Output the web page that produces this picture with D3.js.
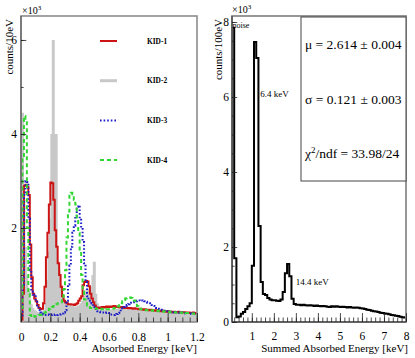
<!DOCTYPE html>
<html>
<head>
<meta charset="utf-8">
<script src="https://cdn.jsdelivr.net/npm/d3@7"></script>
<style>
  body { margin: 0; background: #fff; }
  svg text { font-family: "Liberation Serif", "Times New Roman", serif; fill: #000; }
</style>
</head>
<body>
<script>
// Left panel: spectra per KID, counts per 10 eV bin (x10^3)
const kidBinStart = 0, kidBinWidth = 0.01;
const kidNames = ['KID-1', 'KID-2', 'KID-3', 'KID-4'];
const kid1 = [
  0.05, 0.6, 2.9, 2.92, 2.88, 2.7, 1.65, 0.95, 0.6, 0.5,
  0.44, 0.36, 0.3, 0.27, 0.28, 0.4, 0.75, 1.38, 1.9, 2.5,
  2.97, 2.95, 2.6, 1.95, 1.6, 1.25, 1.0, 0.75, 0.55, 0.45,
  0.42, 0.4, 0.38, 0.38, 0.37, 0.37, 0.36, 0.38, 0.4, 0.45,
  0.5, 0.55, 0.78, 0.85, 0.87, 0.86, 0.76, 0.6, 0.5, 0.42,
  0.35, 0.3, 0.31, 0.3, 0.31, 0.32, 0.31, 0.32, 0.33, 0.32,
  0.33, 0.32, 0.33, 0.34, 0.32, 0.33, 0.32, 0.31, 0.32, 0.31,
  0.3, 0.31, 0.3, 0.29, 0.3, 0.29, 0.28, 0.29, 0.28, 0.28,
  0.27, 0.28, 0.27, 0.26, 0.27, 0.26, 0.26, 0.25, 0.26, 0.25,
  0.25, 0.24, 0.25, 0.24, 0.24, 0.23, 0.24, 0.23, 0.23, 0.22,
  0.23, 0.22, 0.22, 0.21, 0.22, 0.21, 0.21, 0.22, 0.2, 0.21,
  0.2, 0.21, 0.2, 0.19, 0.2, 0.19, 0.19, 0.2, 0.18, 0.19
];
const kid2 = [
  4.45, 4.45, 2.6, 1.6, 1.0, 0.7, 0.5, 0.38, 0.3, 0.26,
  0.24, 0.22, 0.2, 0.2, 0.21, 0.25, 0.4, 0.9, 1.5, 2.2,
  4.0, 6.0, 6.0, 4.0, 4.0, 1.3, 1.1, 0.8, 0.6, 0.5,
  0.45, 0.4, 0.38, 0.36, 0.35, 0.34, 0.33, 0.33, 0.34, 0.36,
  0.4, 0.45, 0.55, 0.65, 0.7, 0.72, 0.7, 0.75, 1.0, 1.28,
  1.28, 0.6, 0.4, 0.32, 0.28, 0.27, 0.27, 0.26, 0.27, 0.26,
  0.26, 0.27, 0.27, 0.28, 0.27, 0.28, 0.28, 0.27, 0.28, 0.27,
  0.28, 0.27, 0.27, 0.28, 0.27, 0.27, 0.26, 0.27, 0.26, 0.26,
  0.26, 0.25, 0.26, 0.25, 0.25, 0.24, 0.25, 0.24, 0.24, 0.24,
  0.23, 0.24, 0.23, 0.23, 0.22, 0.23, 0.22, 0.22, 0.21, 0.22,
  0.21, 0.21, 0.22, 0.21, 0.2, 0.21, 0.2, 0.2, 0.21, 0.2,
  0.2, 0.19, 0.2, 0.19, 0.19, 0.18, 0.19, 0.18, 0.18, 0.18
];
const kid3 = [
  0.1, 0.8, 2.7, 3.0, 2.98, 2.2, 1.1, 0.65, 0.58, 0.55,
  0.45, 0.35, 0.25, 0.2, 0.17, 0.16, 0.15, 0.15, 0.16, 0.15,
  0.15, 0.16, 0.15, 0.16, 0.15, 0.16, 0.16, 0.17, 0.18, 0.2,
  0.25, 0.45, 0.8, 1.2, 1.6, 1.9, 2.05, 2.25, 2.45, 2.48,
  2.2, 2.0, 1.7, 1.25, 0.85, 0.55, 0.47, 0.45, 0.4, 0.33,
  0.28, 0.25, 0.23, 0.22, 0.21, 0.2, 0.2, 0.19, 0.2, 0.19,
  0.17, 0.16, 0.16, 0.15, 0.16, 0.17, 0.19, 0.22, 0.27, 0.3,
  0.32, 0.34, 0.36, 0.38, 0.39, 0.41, 0.42, 0.43, 0.44, 0.45,
  0.46, 0.45, 0.46, 0.45, 0.44, 0.43, 0.41, 0.4, 0.38, 0.36,
  0.34, 0.32, 0.3, 0.28, 0.27, 0.26, 0.25, 0.24, 0.23, 0.23,
  0.22, 0.22, 0.21, 0.21, 0.2, 0.21, 0.2, 0.2, 0.19, 0.2,
  0.19, 0.19, 0.18, 0.19, 0.18, 0.18, 0.17, 0.18, 0.17, 0.17
];
const kid4 = [
  0.3, 3.5, 4.38, 4.3, 2.0, 0.6, 0.15, 0.1, 0.1, 0.12,
  0.13, 0.14, 0.15, 0.15, 0.16, 0.18, 0.2, 0.22, 0.25, 0.28,
  0.3, 0.32, 0.34, 0.36, 0.38, 0.4, 0.41, 0.42, 0.5, 0.7,
  1.1, 1.8, 2.35, 2.72, 2.75, 2.72, 2.6, 2.5, 2.2, 1.9,
  1.5, 1.0, 0.65, 0.48, 0.4, 0.35, 0.32, 0.3, 0.3, 0.29,
  0.29, 0.28, 0.28, 0.27, 0.28, 0.27, 0.27, 0.26, 0.27, 0.27,
  0.27, 0.28, 0.28, 0.29, 0.3, 0.31, 0.33, 0.36, 0.4, 0.44,
  0.47, 0.5, 0.51, 0.52, 0.52, 0.51, 0.5, 0.46, 0.4, 0.34,
  0.3, 0.28, 0.27, 0.26, 0.26, 0.25, 0.25, 0.25, 0.24, 0.25,
  0.24, 0.24, 0.23, 0.24, 0.23, 0.23, 0.22, 0.23, 0.22, 0.22,
  0.22, 0.21, 0.22, 0.21, 0.21, 0.2, 0.21, 0.2, 0.2, 0.2,
  0.19, 0.2, 0.19, 0.19, 0.19, 0.18, 0.18, 0.18, 0.17, 0.18
];

// Right panel: summed spectrum, counts per 100 eV bin (x10^3), bins from 0.1 keV
const sumBinStart = 0.1, sumBinWidth = 0.1;
const summed = [
  7.85, 1.7, 0.13, 0.15, 0.22, 0.27, 0.35, 0.42, 0.5, 1.5,
  7.47, 7.04, 2.56, 1.07, 0.75, 0.72, 0.64, 0.6, 0.58, 0.58,
  0.57, 0.56, 0.6, 0.8, 1.3, 1.55, 1.22, 0.62, 0.48, 0.46,
  0.46, 0.45, 0.46, 0.45, 0.44, 0.45, 0.44, 0.43, 0.44, 0.43,
  0.42, 0.43, 0.42, 0.41, 0.4, 0.42, 0.41, 0.42, 0.41, 0.4,
  0.41, 0.4, 0.39, 0.4, 0.39, 0.38, 0.39, 0.38, 0.37, 0.36,
  0.35, 0.33, 0.32, 0.3, 0.29, 0.28, 0.27, 0.25, 0.24, 0.23,
  0.22, 0.21, 0.19, 0.18, 0.17, 0.16, 0.14, 0.13, 0.12
];

const leftTicks = [0, 0.2, 0.4, 0.6, 0.8, 1, 1.2];
const leftTickLabels = ['0', '0.2', '0.4', '0.6', '0.8', '1', '1.2'];
const leftYTicks = [2, 4, 6];
const rightTicks = [1, 2, 3, 4, 5, 6, 7, 8];
const rightYTicks = [0, 2, 4, 6, 8];
const fitLines = ['\u03bc = 2.614 \u00b1 0.004', '\u03c3 = 0.121 \u00b1 0.003'];

const W = 415, H = 358;
const svg = d3.select('body').append('svg').attr('width', W).attr('height', H);
svg.append('rect').attr('width', W).attr('height', H).attr('fill', '#fff');

function histLine(values, start, width, x, y) {
  const pts = [[x(start), y(0)]];
  values.forEach((v, i) => {
    pts.push([x(start + i * width), y(v)]);
    pts.push([x(start + (i + 1) * width), y(v)]);
  });
  pts.push([x(start + values.length * width), y(0)]);
  return d3.line()(pts);
}

function styleAxis(g, size) {
  g.select('.domain').remove();
  g.selectAll('line').attr('stroke', '#222').attr('stroke-width', 0.8);
  g.selectAll('text').attr('font-size', size).attr('font-family', '"Liberation Serif", serif').attr('fill', '#000');
}

// ---------- left panel ----------
const L = {left: 21, right: 197, top: 16, bottom: 322};
const xL = d3.scaleLinear().domain([0, 1.2]).range([L.left, L.right]);
const yL = d3.scaleLinear().domain([0, 6.51]).range([L.bottom, L.top]);

svg.append('clipPath').attr('id', 'clipL').append('rect')
  .attr('x', L.left).attr('y', L.top).attr('width', L.right - L.left).attr('height', L.bottom - L.top);

const gL = svg.append('g').attr('clip-path', 'url(#clipL)');
const series = [
  {name: kidNames[0], values: kid1, color: '#cc1414', dash: null, width: 2},
  {name: kidNames[1], values: kid2, color: '#c8c8c8', dash: null, width: 3},
  {name: kidNames[2], values: kid3, color: '#1c1cc8', dash: '1.6,2', width: 2},
  {name: kidNames[3], values: kid4, color: '#33d633', dash: '4,3', width: 2}
];

// KID-2 is a filled histogram underneath the others
gL.append('path')
  .attr('d', histLine(kid2, kidBinStart, kidBinWidth, xL, yL))
  .attr('fill', '#c8c8c8').attr('stroke', 'none');

[series[0], series[2], series[3]].forEach(s => {
  gL.append('path')
    .attr('d', histLine(s.values, kidBinStart, kidBinWidth, xL, yL))
    .attr('fill', 'none')
    .attr('stroke', s.color)
    .attr('stroke-width', s.width)
    .attr('stroke-dasharray', s.dash)
    .attr('stroke-linejoin', 'miter');
});

// frame
svg.append('rect')
  .attr('x', L.left).attr('y', L.top).attr('width', L.right - L.left).attr('height', L.bottom - L.top)
  .attr('fill', 'none').attr('stroke', '#8c8c8c').attr('stroke-width', 1.6);
svg.append('line').attr('x1', L.left).attr('x2', L.left).attr('y1', L.top).attr('y2', L.bottom)
  .attr('stroke', '#555').attr('stroke-width', 1);

// x axis
svg.append('g').attr('transform', `translate(0,${L.bottom})`)
  .call(d3.axisBottom(xL).tickValues(d3.range(0, 1.2001, 0.05)).tickSize(-4.5).tickFormat(''))
  .call(g => styleAxis(g, 11));
svg.append('g').attr('transform', `translate(0,${L.bottom})`)
  .call(d3.axisBottom(xL).tickValues(leftTicks).tickSize(-9).tickPadding(11)
    .tickFormat((d, i) => leftTickLabels[i]))
  .call(g => styleAxis(g, 11.5));

// y axis
svg.append('g').attr('transform', `translate(${L.left},0)`)
  .call(d3.axisLeft(yL).tickValues(d3.range(1, 6.01, 1)).tickSize(-2.7).tickFormat(''))
  .call(g => styleAxis(g, 11));
svg.append('g').attr('transform', `translate(${L.left},0)`)
  .call(d3.axisLeft(yL).tickValues(leftYTicks).tickSize(-5.3).tickPadding(4).tickFormat(d3.format('d')))
  .call(g => styleAxis(g, 11.5));

svg.append('text').attr('x', L.right).attr('y', 352).attr('text-anchor', 'end')
  .attr('font-size', 11).text('Absorbed Energy [keV]');
svg.append('text').attr('transform', `translate(13,${L.top + 3}) rotate(-90)`)
  .attr('text-anchor', 'end').attr('font-size', 11).text('counts/10eV');
const expL = svg.append('text').attr('x', L.left + 1).attr('y', 14).attr('font-size', 10);
expL.append('tspan').text('\u00d710');
expL.append('tspan').attr('dy', -4).attr('font-size', 7).text('3');

// legend
const legend = svg.append('g');
series.forEach((s, i) => {
  const ly = 41 + i * 39.7;
  legend.append('line').attr('x1', 100).attr('x2', 117).attr('y1', ly).attr('y2', ly)
    .attr('stroke', s.color).attr('stroke-width', s.width)
    .attr('stroke-dasharray', s.dash);
  legend.append('text').attr('x', 147).attr('y', ly + 2.6)
    .attr('font-family', '"Liberation Sans", Arial, sans-serif').attr('font-weight', 'bold')
    .attr('font-size', 7.4).text(s.name);
});

// ---------- right panel ----------
const R = {left: 232, right: 406, top: 16, bottom: 322};
const xR = d3.scaleLinear().domain([0.1, 8]).range([R.left, R.right]);
const yR = d3.scaleLinear().domain([0, 8.16]).range([R.bottom, R.top]);

svg.append('clipPath').attr('id', 'clipR').append('rect')
  .attr('x', R.left).attr('y', R.top).attr('width', R.right - R.left).attr('height', R.bottom - R.top);

svg.append('g').attr('clip-path', 'url(#clipR)').append('path')
  .attr('d', histLine(summed, sumBinStart, sumBinWidth, xR, yR))
  .attr('fill', 'none').attr('stroke', '#000').attr('stroke-width', 2)
  .attr('stroke-linejoin', 'miter');

svg.append('rect')
  .attr('x', R.left).attr('y', R.top).attr('width', R.right - R.left).attr('height', R.bottom - R.top)
  .attr('fill', 'none').attr('stroke', '#8c8c8c').attr('stroke-width', 1.8);
svg.append('line').attr('x1', R.left).attr('x2', R.left).attr('y1', R.top).attr('y2', R.bottom)
  .attr('stroke', '#333').attr('stroke-width', 1);
svg.append('line').attr('x1', R.left).attr('x2', R.right).attr('y1', R.bottom).attr('y2', R.bottom)
  .attr('stroke', '#333').attr('stroke-width', 1);

svg.append('g').attr('transform', `translate(0,${R.bottom})`)
  .call(d3.axisBottom(xR).tickValues(d3.range(0.2, 8.001, 0.2)).tickSize(-4.5).tickFormat(''))
  .call(g => styleAxis(g, 11));
svg.append('g').attr('transform', `translate(0,${R.bottom})`)
  .call(d3.axisBottom(xR).tickValues(rightTicks).tickSize(-9).tickPadding(10).tickFormat(d3.format('d')))
  .call(g => styleAxis(g, 11.5));
svg.append('g').attr('transform', `translate(${R.left},0)`)
  .call(d3.axisLeft(yR).tickValues(d3.range(0, 8.01, 0.5)).tickSize(-2.6).tickFormat(''))
  .call(g => styleAxis(g, 11));
svg.append('g').attr('transform', `translate(${R.left},0)`)
  .call(d3.axisLeft(yR).tickValues(rightYTicks).tickSize(-5.2).tickPadding(3).tickFormat(d3.format('d')))
  .call(g => styleAxis(g, 11.5));

svg.append('text').attr('x', R.right + 2).attr('y', 352).attr('text-anchor', 'end')
  .attr('font-size', 11).text('Summed Absorbed Energy [keV]');
svg.append('text').attr('transform', `translate(222,${R.top + 3}) rotate(-90)`)
  .attr('text-anchor', 'end').attr('font-size', 11).text('counts/100eV');
const expR = svg.append('text').attr('x', R.left).attr('y', 13).attr('font-size', 10);
expR.append('tspan').text('\u00d710');
expR.append('tspan').attr('dy', -4).attr('font-size', 7).text('3');

// peak annotations
svg.append('text').attr('x', xR(0.12)).attr('y', 28).attr('font-size', 8).text('noise');
svg.append('text').attr('x', xR(1.38)).attr('y', 97).attr('font-size', 9).text('6.4 keV');
svg.append('text').attr('x', xR(3.0)).attr('y', 285).attr('font-size', 9).text('14.4 keV');

// fit box
svg.append('rect').attr('x', 301).attr('y', 17).attr('width', 105).attr('height', 164)
  .attr('fill', '#fff').attr('stroke', '#444').attr('stroke-width', 1);
fitLines.forEach((t, i) => {
  svg.append('text').attr('x', 305).attr('y', 49 + i * 54.5).attr('font-size', 13.5).text(t);
});
const chi = svg.append('text').attr('x', 305).attr('y', 158).attr('font-size', 13.5);
chi.append('tspan').text('\u03c7');
chi.append('tspan').attr('dy', -5).attr('font-size', 9).text('2');
chi.append('tspan').attr('dy', 5).text('/ndf = 33.98/24');
</script>
</body>
</html>
